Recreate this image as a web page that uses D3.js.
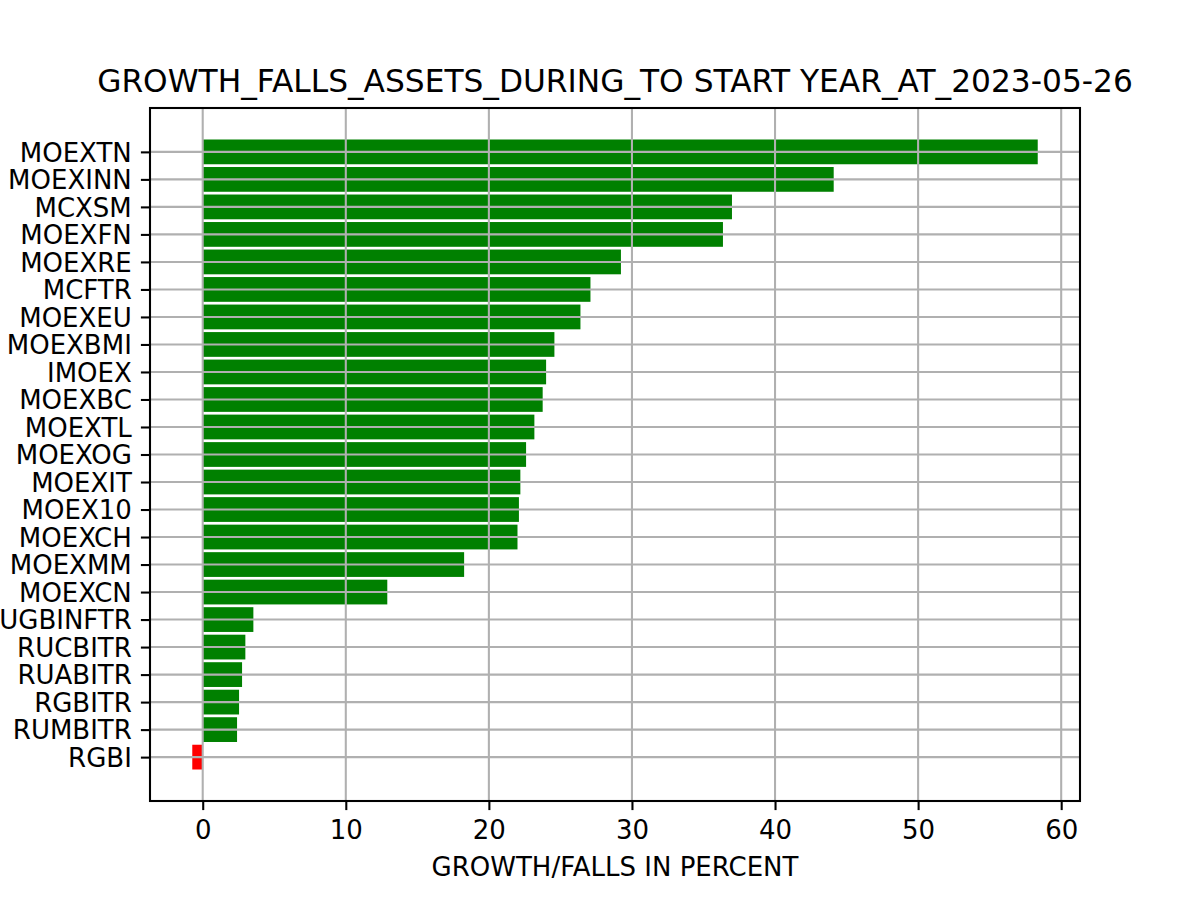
<html>
<head>
<script src="https://cdn.jsdelivr.net/npm/d3@7"></script>
<style>
  body { margin: 0; background: #fff; }
  text { font-family: "DejaVu Sans", sans-serif; fill: #000; }
</style>
</head>
<body>
<div id="chart"></div>
<script>
// categories from top to bottom
const assets = ["MOEXTN", "MOEXINN", "MCXSM", "MOEXFN", "MOEXRE", "MCFTR", "MOEXEU",
  "MOEXBMI", "IMOEX", "MOEXBC", "MOEXTL", "MOEXOG", "MOEXIT", "MOEX10", "MOEXCH",
  "MOEXMM", "MOEXCN", "RUGBINFTR", "RUCBITR", "RUABITR", "RGBITR", "RUMBITR", "RGBI"];
const growth = [58.36, 44.1, 36.99, 36.36, 29.23, 27.1, 26.4,
  24.58, 24.0, 23.76, 23.18, 22.6, 22.2, 22.1, 22.0,
  18.27, 12.9, 3.54, 2.98, 2.75, 2.54, 2.4, -0.73];
const xTicks = [0, 10, 20, 30, 40, 50, 60];
const titleText = "GROWTH_FALLS_ASSETS_DURING_TO START YEAR_AT_2023-05-26";
const xLabel = "GROWTH/FALLS IN PERCENT";

const width = 1200, height = 900;
const margin = {top: 108, right: 120, bottom: 99, left: 150};
const innerWidth = width - margin.left - margin.right;
const innerHeight = height - margin.top - margin.bottom;
const lw = 2.08;   // 0.8pt at 187.5 dpi
const n = assets.length;
const barH = 0.9;

const svg = d3.select("#chart").append("svg")
  .attr("width", width)
  .attr("height", height);

const g = svg.append("g").attr("transform", `translate(${margin.left},${margin.top})`);

// matplotlib style 5% margins
const xmin = Math.min(0, d3.min(growth)), xmax = Math.max(0, d3.max(growth));
const xpad = (xmax - xmin) * 0.05;
const x = d3.scaleLinear().domain([xmin - xpad, xmax + xpad]).range([0, innerWidth]);

// position 0 at the bottom, like barh
const ylo = -barH / 2, yhi = n - 1 + barH / 2, ypad = (yhi - ylo) * 0.05;
const y = d3.scaleLinear().domain([ylo - ypad, yhi + ypad]).range([innerHeight, 0]);
const pos = i => n - 1 - i;

// bars
g.selectAll("rect.bar")
  .data(growth)
  .enter().append("rect")
  .attr("class", "bar")
  .attr("x", d => x(Math.min(0, d)))
  .attr("width", d => Math.abs(x(d) - x(0)))
  .attr("y", (d, i) => y(pos(i) + barH / 2))
  .attr("height", y(0) - y(barH))
  .attr("fill", d => d < 0 ? "#ff0000" : "#008000");

// grid on top of bars
g.append("g").selectAll("line")
  .data(xTicks).enter().append("line")
  .attr("x1", d => x(d)).attr("x2", d => x(d))
  .attr("y1", 0).attr("y2", innerHeight)
  .attr("stroke", "#b0b0b0").attr("stroke-width", lw);

g.append("g").selectAll("line")
  .data(assets).enter().append("line")
  .attr("x1", 0).attr("x2", innerWidth)
  .attr("y1", (d, i) => y(pos(i))).attr("y2", (d, i) => y(pos(i)))
  .attr("stroke", "#b0b0b0").attr("stroke-width", lw);

// axes
const xAxis = g.append("g")
  .attr("transform", `translate(0,${innerHeight})`)
  .call(d3.axisBottom(x).tickValues(xTicks).tickFormat(d3.format("d")).tickSize(9.1).tickSizeOuter(0));

const yAxis = g.append("g")
  .call(d3.axisLeft(y).tickValues(d3.range(n)).tickFormat(v => assets[n - 1 - v]).tickSize(9.1).tickSizeOuter(0));

[xAxis, yAxis].forEach(a => {
  a.select(".domain").remove();
  a.selectAll(".tick line").attr("stroke", "#000").attr("stroke-width", lw);
  a.selectAll(".tick text").style("font-size", "26px").attr("font-family", null);
});
xAxis.selectAll(".tick text").attr("y", 19.8);
yAxis.selectAll(".tick text").attr("x", -18.2).attr("dy", "0.36em");

// frame
g.append("rect")
  .attr("width", innerWidth).attr("height", innerHeight)
  .attr("fill", "none").attr("stroke", "#000").attr("stroke-width", lw);

// title and label
svg.append("text")
  .attr("x", margin.left + innerWidth / 2).attr("y", 92.4)
  .attr("text-anchor", "middle")
  .style("font-size", "31.25px")
  .text(titleText);

svg.append("text")
  .attr("x", margin.left + innerWidth / 2).attr("y", 875.7)
  .attr("text-anchor", "middle")
  .style("font-size", "26px")
  .text(xLabel);
</script>
</body>
</html>
